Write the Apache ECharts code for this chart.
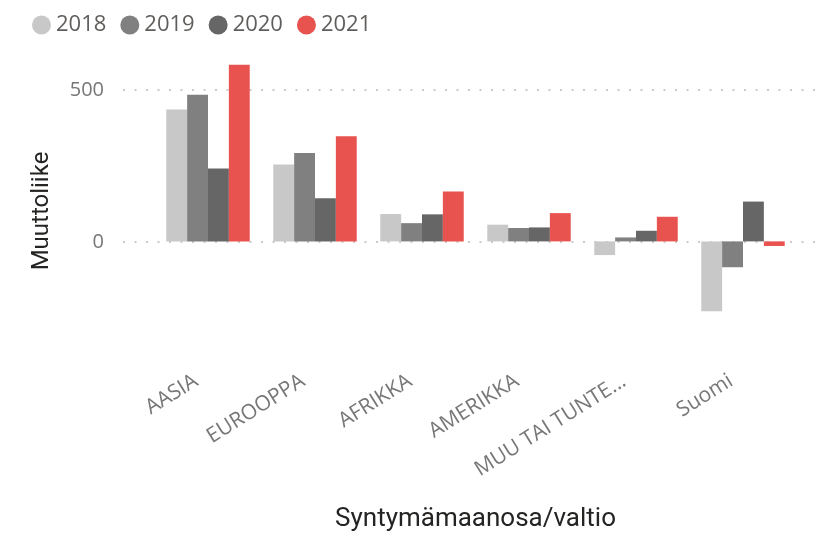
<!DOCTYPE html>
<html>
<head>
<meta charset="utf-8">
<script src="https://cdn.jsdelivr.net/npm/echarts@6/dist/echarts.min.js"></script>
<style>
  html, body { margin: 0; padding: 0; background: #fff; }
  #main { width: 830px; height: 537px; }
</style>
</head>
<body>
<div id="main"></div>
<script>
// data
var categories = ['AASIA', 'EUROOPPA', 'AFRIKKA', 'AMERIKKA', 'MUU TAI TUNTE...', 'Suomi'];
var years = ['2018', '2019', '2020', '2021'];
var v2018 = [434, 253, 90, 55, -45, -230];
var v2019 = [482, 291, 60, 44, 13, -85];
var v2020 = [240, 142, 89, 46, 35, 131];
var v2021 = [581, 346, 164, 93, 81, -15];
var yTicks = [0, 500];

var colors = ['#C8C8C8', '#808080', '#666666', '#E8524F'];
var values = [v2018, v2019, v2020, v2021];

var chart = echarts.init(document.getElementById('main'));

var series = years.map(function (y, i) {
  return {
    name: y,
    type: 'bar',
    xAxisIndex: 1,
    yAxisIndex: 1,
    data: values[i],
    barGap: '0%',
    barCategoryGap: '22%',
    itemStyle: { color: colors[i] }
  };
});

var option = {
  animation: false,
  color: colors,
  legend: {
    data: years.map(function (y) { return { name: y, icon: 'circle' }; }),
    left: 27,
    top: 9,
    itemWidth: 19,
    itemHeight: 19,
    itemGap: 14,
    itemTextGap: 4,
    textStyle: { fontFamily: 'Open Sans', fontSize: 22, color: '#605E5C' }
  },
  grid: [
    // grid only for the dotted lines and the 0 / 500 labels
    { left: 123, right: 10, top: 90, bottom: 295 },
    // bars
    { left: 154.5, right: 33.5, top: 59, bottom: 173 }
  ],
  xAxis: [
    { gridIndex: 0, type: 'category', data: [''], show: false },
    {
      gridIndex: 1,
      type: 'category',
      data: categories,
      axisLine: { show: false },
      axisTick: { show: false },
      axisLabel: {
        rotate: 32,
        margin: 9,
        interval: 0,
        padding: [0, 14, 0, 0],
        fontFamily: 'Open Sans',
        fontSize: 21,
        color: '#777777'
      },
      name: 'Syntymämaanosa/valtio',
      nameLocation: 'middle',
      nameGap: 143,
      nameTextStyle: { fontFamily: 'Roboto', fontSize: 26, color: '#252423' }
    }
  ],
  yAxis: [
    {
      gridIndex: 0,
      type: 'value',
      min: yTicks[0],
      max: yTicks[1],
      interval: yTicks[1] - yTicks[0],
      axisLine: { show: false },
      axisTick: { show: false },
      axisLabel: {
        showMinLabel: true,
        showMaxLabel: true,
        margin: 19,
        fontFamily: 'Open Sans',
        fontSize: 20,
        color: '#777777'
      },
      splitLine: {
        show: true,
        lineStyle: { color: '#BBBBBB', width: 1.5, type: [2, 9.5] }
      }
    },
    {
      gridIndex: 1,
      type: 'value',
      min: -400,
      max: 600,
      axisLine: { show: false },
      axisTick: { show: false },
      axisLabel: { show: false },
      splitLine: { show: false },
      name: 'Muuttoliike',
      nameLocation: 'middle',
      nameGap: 101,
      nameTextStyle: { fontFamily: 'Roboto', fontSize: 24, color: '#252423' }
    }
  ],
  series: series
};

chart.setOption(option);
</script>
</body>
</html>
